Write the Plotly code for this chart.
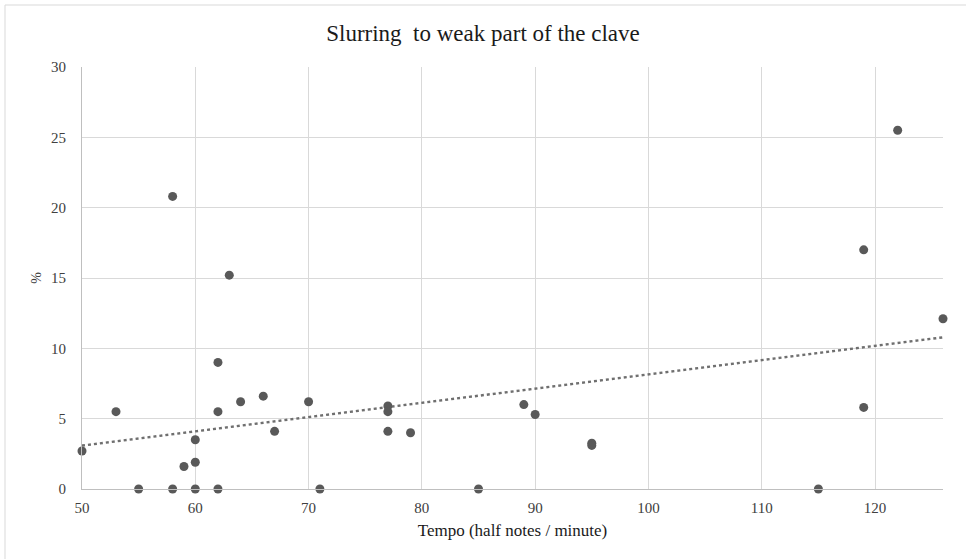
import numpy as np
import plotly.graph_objects as go

tempo = [50, 53, 55, 58, 58, 59, 60, 60, 60, 62, 62, 62, 63, 64, 66, 67, 70, 71,
         77, 77, 77, 79, 85, 89, 90, 95, 95, 115, 119, 119, 122, 126]
slurring = [2.7, 5.5, 0, 0, 20.8, 1.6, 3.5, 1.9, 0, 9.0, 5.5, 0, 15.2, 6.2, 6.6, 4.1, 6.2, 0,
            5.9, 5.5, 4.1, 4.0, 0, 6.0, 5.3, 3.25, 3.1, 0, 5.8, 17.0, 25.5, 12.1]
x_ticks = [50, 60, 70, 80, 90, 100, 110, 120]
y_ticks = [0, 5, 10, 15, 20, 25, 30]

title_text = "Slurring  to weak part of the clave"
x_title = "Tempo (half notes / minute)"
y_title = "%"

W, H = 966, 559
L, R, T, B = 82, 23, 67, 70

slope, intercept = np.polyfit(tempo, slurring, 1)
trend_x = [50, 126]
trend_y = [slope * v + intercept for v in trend_x]

fig = go.Figure()
fig.add_trace(go.Scatter(x=trend_x, y=trend_y, mode="lines",
                         line=dict(color="#6f6f6f", width=2.4, dash="dot"),
                         hoverinfo="skip", showlegend=False))
fig.add_trace(go.Scatter(x=tempo, y=slurring, mode="markers",
                         marker=dict(color="#595959", size=9),
                         cliponaxis=False, showlegend=False))

serif = "Liberation Serif, Times New Roman, serif"
fig.update_layout(
    width=W, height=H,
    margin=dict(l=L, r=R, t=T, b=B),
    paper_bgcolor="white", plot_bgcolor="white",
    font=dict(family=serif, color="#404040", size=15),
    title=dict(text=title_text, x=0.5, xanchor="center", y=1 - 33 / H, yanchor="middle",
               font=dict(family=serif, size=23, color="#1a1a1a")),
    xaxis=dict(range=[50, 126], tickvals=x_ticks, showgrid=True, gridcolor="#d9d9d9",
               gridwidth=1, zeroline=False, showline=True, linecolor="#bfbfbf", linewidth=1,
               ticks="", ticklabelstandoff=5,
               title=dict(text=x_title, standoff=9, font=dict(family=serif, size=17, color="#1a1a1a"))),
    yaxis=dict(range=[0, 30], tickvals=y_ticks, showgrid=True, gridcolor="#d9d9d9",
               gridwidth=1, zeroline=False, showline=True, linecolor="#bfbfbf", linewidth=1,
               ticks="", ticklabelstandoff=12,
               title=dict(text=y_title, standoff=6, font=dict(family=serif, size=14, color="#404040"))),
)

# outer chart border (left and top visible in reference)
pw = W - L - R
ph = H - T - B
def px_to_paper_x(px):
    return (px - L) / pw
def px_to_paper_y(py):
    return (H - B - py) / ph
fig.add_shape(type="line", xref="paper", yref="paper",
              x0=px_to_paper_x(5), x1=px_to_paper_x(W + 5), y0=px_to_paper_y(5), y1=px_to_paper_y(5),
              line=dict(color="#d9d9d9", width=1))
fig.add_shape(type="line", xref="paper", yref="paper",
              x0=px_to_paper_x(5), x1=px_to_paper_x(5), y0=px_to_paper_y(5), y1=px_to_paper_y(H + 5),
              line=dict(color="#d9d9d9", width=1))

fig.write_html("out.html")
